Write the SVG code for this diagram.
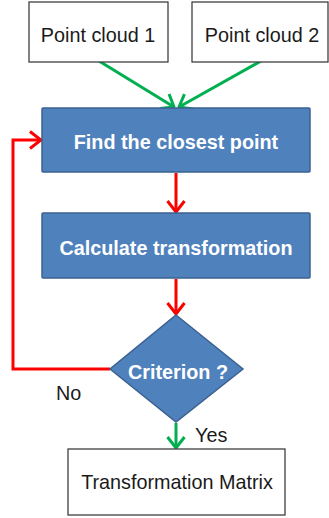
<svg xmlns="http://www.w3.org/2000/svg" width="329" height="518" viewBox="0 0 329 518">
  <style>
    .plain { fill: #ffffff; stroke: #404040; stroke-width: 1.3; }
    .step { fill: #4f81bd; stroke: #3b6190; stroke-width: 1.5; }
    .dark { font-family: "Liberation Sans", Arial, sans-serif; font-size: 19.8px; fill: #1a1a1a; text-anchor: middle; }
    .light { font-family: "Liberation Sans", Arial, sans-serif; font-size: 19.8px; font-weight: bold; fill: #ffffff; text-anchor: middle; }
    .label { font-family: "Liberation Sans", Arial, sans-serif; font-size: 19.8px; fill: #1a1a1a; }
    .red { fill: none; stroke: #ff0000; stroke-width: 3; marker-end: url(#headRed); }
    .green { fill: none; stroke: #00b050; stroke-width: 3; marker-end: url(#headGreen); }
  </style>
  <defs>
    <marker id="headRed" viewBox="0 0 14 20" refX="12.5" refY="10" markerWidth="14" markerHeight="20" markerUnits="userSpaceOnUse" orient="auto">
      <path d="M1.5,1.5 L12.5,10 L1.5,18.5" fill="none" stroke="#ff0000" stroke-width="3"/>
    </marker>
    <marker id="headGreen" viewBox="0 0 14 20" refX="12.5" refY="10" markerWidth="14" markerHeight="20" markerUnits="userSpaceOnUse" orient="auto">
      <path d="M1.5,1.5 L12.5,10 L1.5,18.5" fill="none" stroke="#00b050" stroke-width="3"/>
    </marker>
  </defs>

  <rect width="329" height="518" fill="#ffffff"/>

  <g id="connectors">
    <path class="green" d="M99,61 L174,107"/>
    <path class="green" d="M261,61 L179,107"/>
    <path class="red" d="M176,173 L176,212"/>
    <path class="red" d="M176,279 L176,314"/>
    <path class="red" d="M110,369 L13,369 L13,140 L41,140"/>
    <path class="green" d="M176,423 L176,448"/>
  </g>

  <g id="cloud1">
    <rect class="plain" x="29" y="2" width="139" height="60"/>
    <text class="dark" x="98" y="42">Point cloud 1</text>
  </g>
  <g id="cloud2">
    <rect class="plain" x="192" y="2" width="136" height="60"/>
    <text class="dark" x="262" y="42">Point cloud 2</text>
  </g>
  <g id="closest">
    <rect class="step" x="42" y="108" width="268" height="64" rx="1"/>
    <text class="light" x="176" y="149">Find the closest point</text>
  </g>
  <g id="calculate">
    <rect class="step" x="42" y="213" width="268" height="65" rx="1"/>
    <text class="light" x="176" y="255">Calculate transformation</text>
  </g>
  <g id="criterion">
    <polygon class="step" points="176,315 243,369 176,422 110,369"/>
    <text class="light" x="178" y="379">Criterion ?</text>
  </g>
  <g id="no-label">
    <text class="label" x="56" y="400">No</text>
  </g>
  <g id="yes-label">
    <text class="label" x="195" y="442">Yes</text>
  </g>
  <g id="matrix">
    <rect class="plain" x="68" y="449" width="217" height="66"/>
    <text class="dark" x="177" y="489">Transformation Matrix</text>
  </g>
</svg>
